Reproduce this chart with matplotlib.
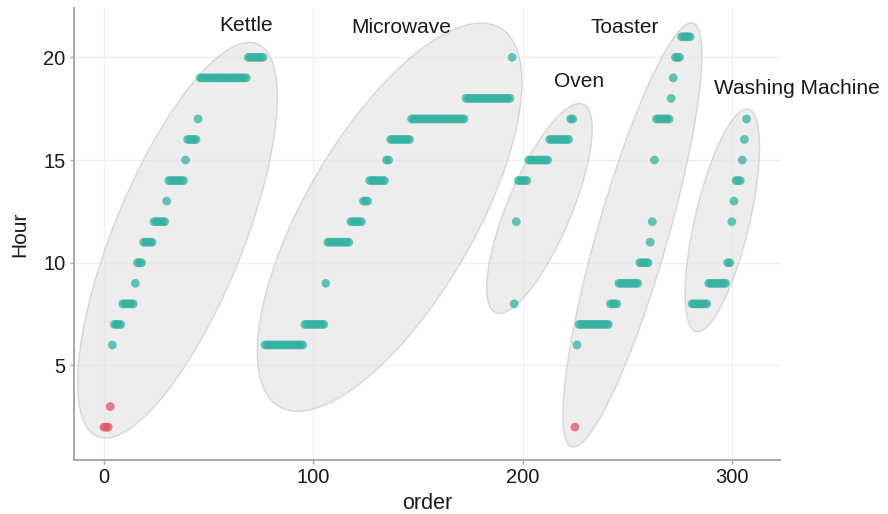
import numpy as np
import matplotlib
matplotlib.use("Agg")
import matplotlib.pyplot as plt
from matplotlib.patches import Polygon

plt.rcParams['font.family'] = ['Liberation Sans', 'DejaVu Sans']

# ---- data: runs of (hour, number of consecutive records) per appliance ----
devices = ["Kettle", "Microwave", "Oven", "Toaster", "Washing Machine"]
kettle_hours = [2, 3, 6, 7, 8, 9, 10, 11, 12, 13, 14, 15, 16, 17, 19, 20]
kettle_counts = [3, 1, 1, 4, 6, 1, 3, 5, 6, 1, 8, 1, 5, 1, 23, 8]
kettle_anom = [1, 1, 0, 0, 0, 0, 0, 0, 0, 0, 0, 0, 0, 0, 0, 0]
micro_hours = [6, 7, 9, 11, 12, 13, 14, 15, 16, 17, 18, 20]
micro_counts = [19, 10, 1, 11, 6, 3, 8, 2, 10, 26, 22, 1]
micro_anom = [0] * 12
oven_hours = [8, 12, 14, 15, 16, 17]
oven_counts = [1, 1, 5, 10, 10, 2]
oven_anom = [0] * 6
toaster_hours = [2, 6, 7, 8, 9, 10, 11, 12, 15, 17, 18, 19, 20, 21]
toaster_counts = [1, 1, 15, 4, 10, 5, 1, 1, 1, 7, 1, 1, 3, 5]
toaster_anom = [1] + [0] * 13
wash_hours = [8, 9, 10, 12, 13, 14, 15, 16, 17]
wash_counts = [8, 9, 2, 1, 1, 3, 1, 1, 1]
wash_anom = [0] * 9

runs = [(kettle_hours, kettle_counts, kettle_anom),
        (micro_hours, micro_counts, micro_anom),
        (oven_hours, oven_counts, oven_anom),
        (toaster_hours, toaster_counts, toaster_anom),
        (wash_hours, wash_counts, wash_anom)]

# ---- layout / style ----
label_pos = [(68, 21.55), (142, 21.45), (227, 18.8), (249, 21.45), (331, 18.5)]
# ellipse tuning in pixels/degrees relative to the group's enclosing ellipse:
# (major pad, minor pad, rotation, centre dx, centre dy)
ell_style = [(-41, 34, 2.3, -6, -2),
             (22, 43, -8.9, 1, 16),
             (0, 10, 6.7, -4, -3),
             (15, 9, -0.5, 0, 3),
             (-6, 11, 0.0, 3, 9)]

teal = "#35b2a2"
red = "#e25466"
H_PX = 514

fig = plt.figure(figsize=(8.88, 5.14), dpi=100)
ax = fig.add_axes([74 / 888, 1 - 460 / 514, (780 - 74) / 888, (460 - 8) / 514])
ax.set_xlim(-14.3, 323)
ax.set_ylim(0.4, 22.4)
fig.canvas.draw()


def mvee(P, tol=1e-5):
    P = np.asarray(P, float).T
    d, N = P.shape
    Q = np.vstack([P, np.ones(N)])
    u = np.ones(N) / N
    for _ in range(20000):
        X = Q @ np.diag(u) @ Q.T
        M = np.einsum('ij,ji->i', Q.T @ np.linalg.inv(X), Q)
        j = np.argmax(M)
        step = (M[j] - d - 1.0) / ((d + 1) * (M[j] - 1.0))
        new_u = (1 - step) * u
        new_u[j] += step
        if np.linalg.norm(new_u - u) < tol:
            u = new_u
            break
        u = new_u
    c = P @ u
    S = (P @ np.diag(u) @ P.T - np.outer(c, c)) * d
    return c, S


order = 0
for (hrs, cnts, anom), name, lp, st in zip(runs, devices, label_pos, ell_style):
    xs, ys, cs = [], [], []
    for h, n, a in zip(hrs, cnts, anom):
        for k in range(n):
            xs.append(order)
            ys.append(h)
            cs.append(red if a else teal)
            order += 1
    xs = np.array(xs); ys = np.array(ys)

    # enclosing ellipse, computed in pixel space (y pointing down)
    disp = ax.transData.transform(np.column_stack([xs, ys]))
    disp[:, 1] = H_PX - disp[:, 1]
    _, S = mvee(disp)
    w, V = np.linalg.eigh(S)
    a_ax, b_ax = np.sqrt(w[1]), np.sqrt(w[0])
    theta = 0.5 * np.arctan2(2 * S[0, 1], S[0, 0] - S[1, 1]) + np.radians(st[2])
    ctr = np.array([(disp[:, 0].min() + disp[:, 0].max()) / 2 + st[3],
                    (disp[:, 1].min() + disp[:, 1].max()) / 2 + st[4]])
    A, B = a_ax + st[0], b_ax + st[1]
    t = np.linspace(0, 2 * np.pi, 240)
    ex = A * np.cos(t); ey = B * np.sin(t)
    px = ctr[0] + ex * np.cos(theta) - ey * np.sin(theta)
    py = ctr[1] + ex * np.sin(theta) + ey * np.cos(theta)
    dpts = ax.transData.inverted().transform(np.column_stack([px, H_PX - py]))
    ax.add_patch(Polygon(dpts, closed=True, facecolor="#e2e2e2", alpha=0.6,
                         edgecolor="#c2c2c2", linewidth=1.0, zorder=1))

    ax.scatter(xs, ys, s=40, c=cs, alpha=0.75, linewidths=0, zorder=3)
    ax.text(lp[0], lp[1], name, ha="center", va="center", fontsize=15,
            color="#1a1a1a", clip_on=False, zorder=4)

ax.set_xticks([0, 100, 200, 300])
ax.set_yticks([5, 10, 15, 20])
ax.grid(True, color="#f0f0f0", linewidth=0.9, zorder=0)
ax.set_axisbelow(True)
for s in ["top", "right"]:
    ax.spines[s].set_visible(False)
for s in ["left", "bottom"]:
    ax.spines[s].set_color("#a8a8a8")
    ax.spines[s].set_linewidth(1.4)
ax.tick_params(axis="both", colors="#a8a8a8", length=3, width=1, labelsize=14.5,
               labelcolor="#1a1a1a", pad=3)
ax.set_xlabel("order", fontsize=15.5, color="#1a1a1a", labelpad=4)
ax.set_ylabel("Hour", fontsize=15, color="#1a1a1a", labelpad=10)

fig.savefig("out.png", dpi=100)
